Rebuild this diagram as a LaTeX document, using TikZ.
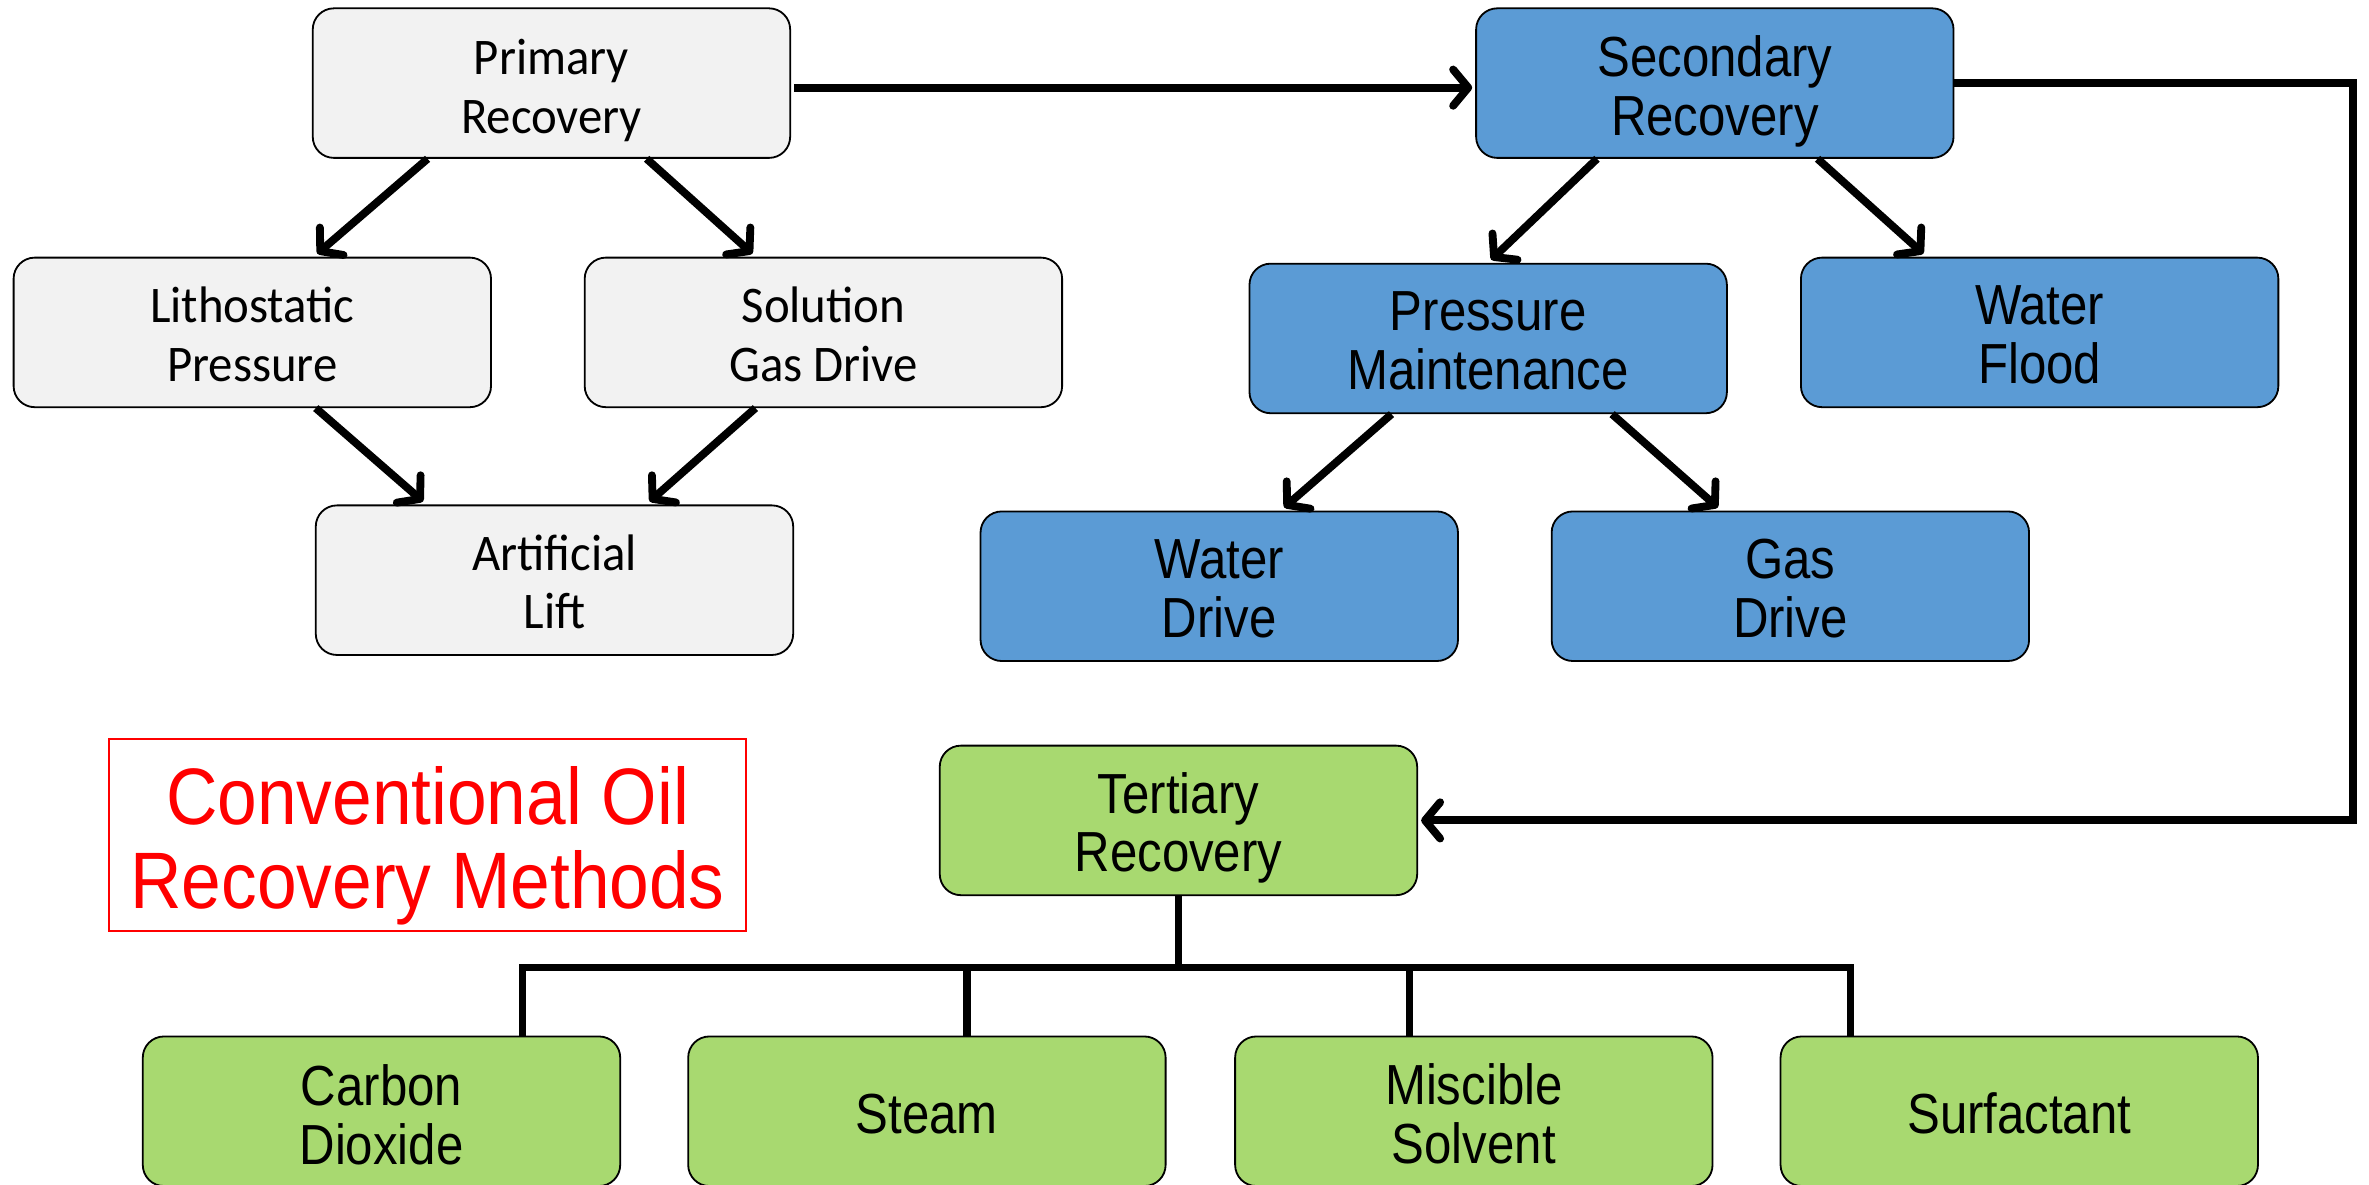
\documentclass[tikz,border=0pt]{standalone}
\usepackage{fontspec}
\usetikzlibrary{calc,arrows.meta}
\newfontfamily\arialc[FakeStretch=0.87]{Liberation Sans}
\newfontfamily\calic[FakeStretch=0.95]{Carlito}
\newfontfamily\titlef[FakeStretch=0.89]{Liberation Sans}
\definecolor{boxgray}{RGB}{242,242,242}
\definecolor{boxblue}{RGB}{91,155,213}
\definecolor{boxgreen}{RGB}{168,217,112}
\definecolor{titlered}{RGB}{255,0,0}
\newcommand\lowtx[2]{\raisebox{-#1}[\height][\depth]{\begin{tabular}{@{}c@{}}#2\end{tabular}}}
\tikzset{
  base/.style={draw=black, line width=0.6pt, rounded corners=7pt, minimum width=158pt, minimum height=49.5pt, inner sep=0pt, align=center},
  graybox/.style={base, fill=boxgray, font=\calic\fontsize{17pt}{19.5pt}\selectfont},
  bluebox/.style={base, fill=boxblue, font=\arialc\fontsize{18.7pt}{19.5pt}\selectfont},
  greenbox/.style={base, fill=boxgreen, font=\arialc\fontsize{18.7pt}{19.5pt}\selectfont},
  titlebox/.style={draw=titlered, line width=0.6pt, minimum width=211pt, minimum height=63.5pt, inner sep=0pt, align=center, text=titlered, font=\titlef\fontsize{26.5pt}{27.5pt}\selectfont},
  arr/.style={line width=2.6pt, -{Straight Barb[length=5pt,width=12pt,line width=2.6pt,round]}},
  tree/.style={line width=2.4pt},
}
\begin{document}
\begin{tikzpicture}[x=0.5pt,y=-0.5pt]
\useasboundingbox (0,0) rectangle (1568,784);
% gray
\node[graybox] (pr) at (365,55) {\lowtx{3pt}{Primary\\Recovery}};
\node[graybox] (li) at (167,220) {\lowtx{2.5pt}{Lithostatic\\Pressure}};
\node[graybox] (so) at (545,220) {\lowtx{2.5pt}{Solution\\Gas Drive}};
\node[graybox] (al) at (367,384) {\lowtx{2.5pt}{Artificial\\Lift}};
% blue
\node[bluebox] (sr) at (1135,55) {\lowtx{3.6pt}{Secondary\\Recovery}};
\node[bluebox] (pm) at (985,224) {\lowtx{3.3pt}{Pressure\\Maintenance}};
\node[bluebox] (wf) at (1350,220) {\lowtx{3.3pt}{Water\\Flood}};
\node[bluebox] (wd) at (807,388) {\lowtx{3.3pt}{Water\\Drive}};
\node[bluebox] (gd) at (1185,388) {\lowtx{3.3pt}{Gas\\Drive}};
% green
\node[greenbox] (tr) at (780,543) {\lowtx{3.4pt}{Tertiary\\Recovery}};
\node[greenbox] (cd) at (252.5,735.5) {\lowtx{4pt}{Carbon\\Dioxide}};
\node[greenbox] (st) at (613.5,735.5) {\lowtx{3.5pt}{Steam}};
\node[greenbox] (ms) at (975.5,735.5) {\lowtx{3.5pt}{Miscible\\Solvent}};
\node[greenbox] (sf) at (1336.5,735.5) {\lowtx{3.5pt}{Surfactant}};
% title
\node[titlebox] (tt) at (283,552.5) {\lowtx{5pt}{Conventional Oil\\Recovery Methods}};
% arrows
\draw[arr] ($(pr.south)+(-82,0)$) -- ($(li.north)+(43,-2)$);
\draw[arr] ($(pr.south)+(63,0)$) -- ($(so.north)+(-47,-2)$);
\draw[arr] ($(li.south)+(42,0)$) -- ($(al.north)+(-87,-2)$);
\draw[arr] ($(so.south)+(-45,0)$) -- ($(al.north)+(63,-2)$);
\draw[arr] ($(sr.south)+(-78,0)$) -- ($(pm.north)+(2,-2)$);
\draw[arr] ($(sr.south)+(68,0)$) -- ($(wf.north)+(-77,-2)$);
\draw[arr] ($(pm.south)+(-64,0)$) -- ($(wd.north)+(43,-2)$);
\draw[arr] ($(pm.south)+(82,0)$) -- ($(gd.north)+(-48,-2)$);
\draw[arr] ($(pr.east)+(2,3)$) -- ($(sr.west)+(-2,3)$);
\draw[arr] (sr.east) -- ++(264,0) |- ($(tr.east)+(2,0)$);
% tree
\coordinate (bj) at (780,641);
\draw[tree] (tr.south) -- (bj);
\draw[tree] ($(cd.north)+(93.5,0)$) -- ++(0,-45) -| ($(sf.north)+(-111.5,0)$);
\draw[tree] ($(st.north)+(26.5,0)$) -- ++(0,-45);
\draw[tree] ($(ms.north)+(-42.5,0)$) -- ++(0,-45);
\end{tikzpicture}
\end{document}
